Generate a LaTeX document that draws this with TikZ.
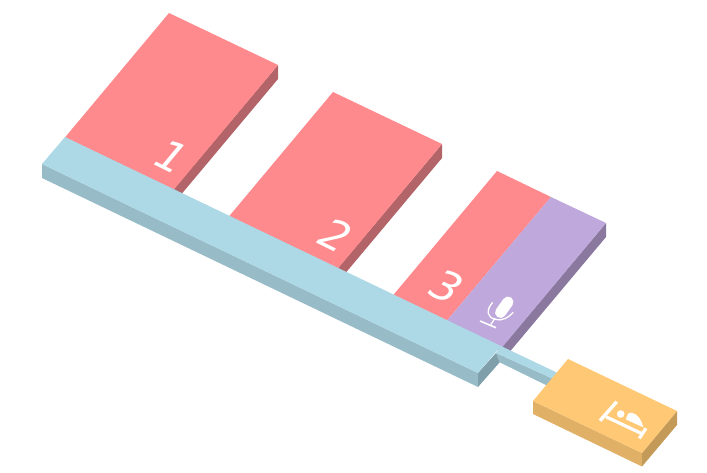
\documentclass[tikz,border=0pt]{standalone}
\usepackage{fontspec}
\setmainfont{DejaVu Sans}
\tikzset{
  digit/.style={transform shape,cm={.897,-.444,.64,.77,(0,0)},text=white,font=\fontsize{43}{43}\selectfont,inner sep=0pt},
  icon/.style={draw=white,line cap=butt,line join=round}
}
\definecolor{redT}{HTML}{FF8A8E}\definecolor{redS}{HTML}{B26468}
\definecolor{bluT}{HTML}{ADD8E6}\definecolor{bluS}{HTML}{97BCC8}\definecolor{bluR}{HTML}{7FA0AB}
\definecolor{purT}{HTML}{BFA8DB}\definecolor{purS}{HTML}{8A789E}
\definecolor{oraT}{HTML}{FFC875}\definecolor{oraS}{HTML}{E0B066}\definecolor{oraR}{HTML}{C49A58}
\begin{document}
\begin{tikzpicture}[x=1pt,y=-1pt]
\useasboundingbox (0,0) rectangle (707,472);
% block 1
\fill[redS] (174,189) -- (278,65) -- (278,79) -- (174,203) -- cycle;
\fill[redT] (169,13) -- (278,65) -- (171,193) -- (62,141) -- cycle;
% block 2
\fill[redS] (338,268) -- (442,144) -- (442,158) -- (338,282) -- cycle;
\fill[redT] (333,92) -- (442,144) -- (335,272) -- (226,220) -- cycle;
% block 3
\fill[purS] (502,347) -- (606,223) -- (606,237) -- (502,361) -- cycle;
\fill[redT] (497,171) -- (551,197) -- (445,323) -- (390,299) -- cycle;
\fill[purT] (551,197) -- (606,223) -- (499,351) -- (445,323) -- cycle;
% connector
\fill[bluS] (496,353) -- (558,381) -- (552,388) -- (499.7,362.3) -- cycle;
\fill[bluT] (501,346) -- (562,375) -- (558,381) -- (496,353) -- cycle;
% bar
\fill[bluS] (42,164) -- (478,373) -- (478,387) -- (42,178) -- cycle;
\fill[bluR] (478,373) -- (496,353) -- (499.7,362.3) -- (478,387) -- cycle;
\fill[bluT] (42,164) -- (65,137) -- (501,346) -- (478,373) -- cycle;
% box
\fill[oraS] (533,401) -- (642,453) -- (642,466.5) -- (533,414) -- cycle;
\fill[oraR] (642,453) -- (677,411) -- (677,425) -- (642,466.5) -- cycle;
\fill[oraT] (568,359) -- (677,411) -- (642,453) -- (533,401) -- cycle;
% digits
\node[shift={(172,157)},digit] (n1) at (0,0) {1};
\node[shift={(336,235)},digit] (n2) at (0,0) {2};
\node[shift={(447,287)},digit] (n3) at (0,0) {3};
% mic
\draw[icon,line width=11pt,line cap=round] (508,302) -- (500.5,312.5);
\draw[icon,line width=1.3pt] (492.7,302.3) .. controls (485,311) and (488,318) .. (495,319) .. controls (502,322) and (509,317) .. (513.3,312.3);
\draw[icon,line width=1.3pt] (495,318.5) -- (490.7,324.5);
\draw[icon,line width=1.6pt] (480,321) -- (496,327.7);
% bed
\draw[icon,line width=3.4pt] (616.7,401.7) -- (600,420.7);
\draw[icon,line width=3.2pt] (606,416.8) -- (643,434.2);
\draw[icon,line width=3.2pt] (646,428.3) -- (639.3,438.3);
\fill[white] (620.7,414) circle (3.8pt);
\fill[white] (626.7,416.7) .. controls (628,413) and (630,412) .. (632,412.7) .. controls (638,414) and (642,421) .. (643.3,427.3) -- (626,419.5) -- cycle;
\end{tikzpicture}
\end{document}
